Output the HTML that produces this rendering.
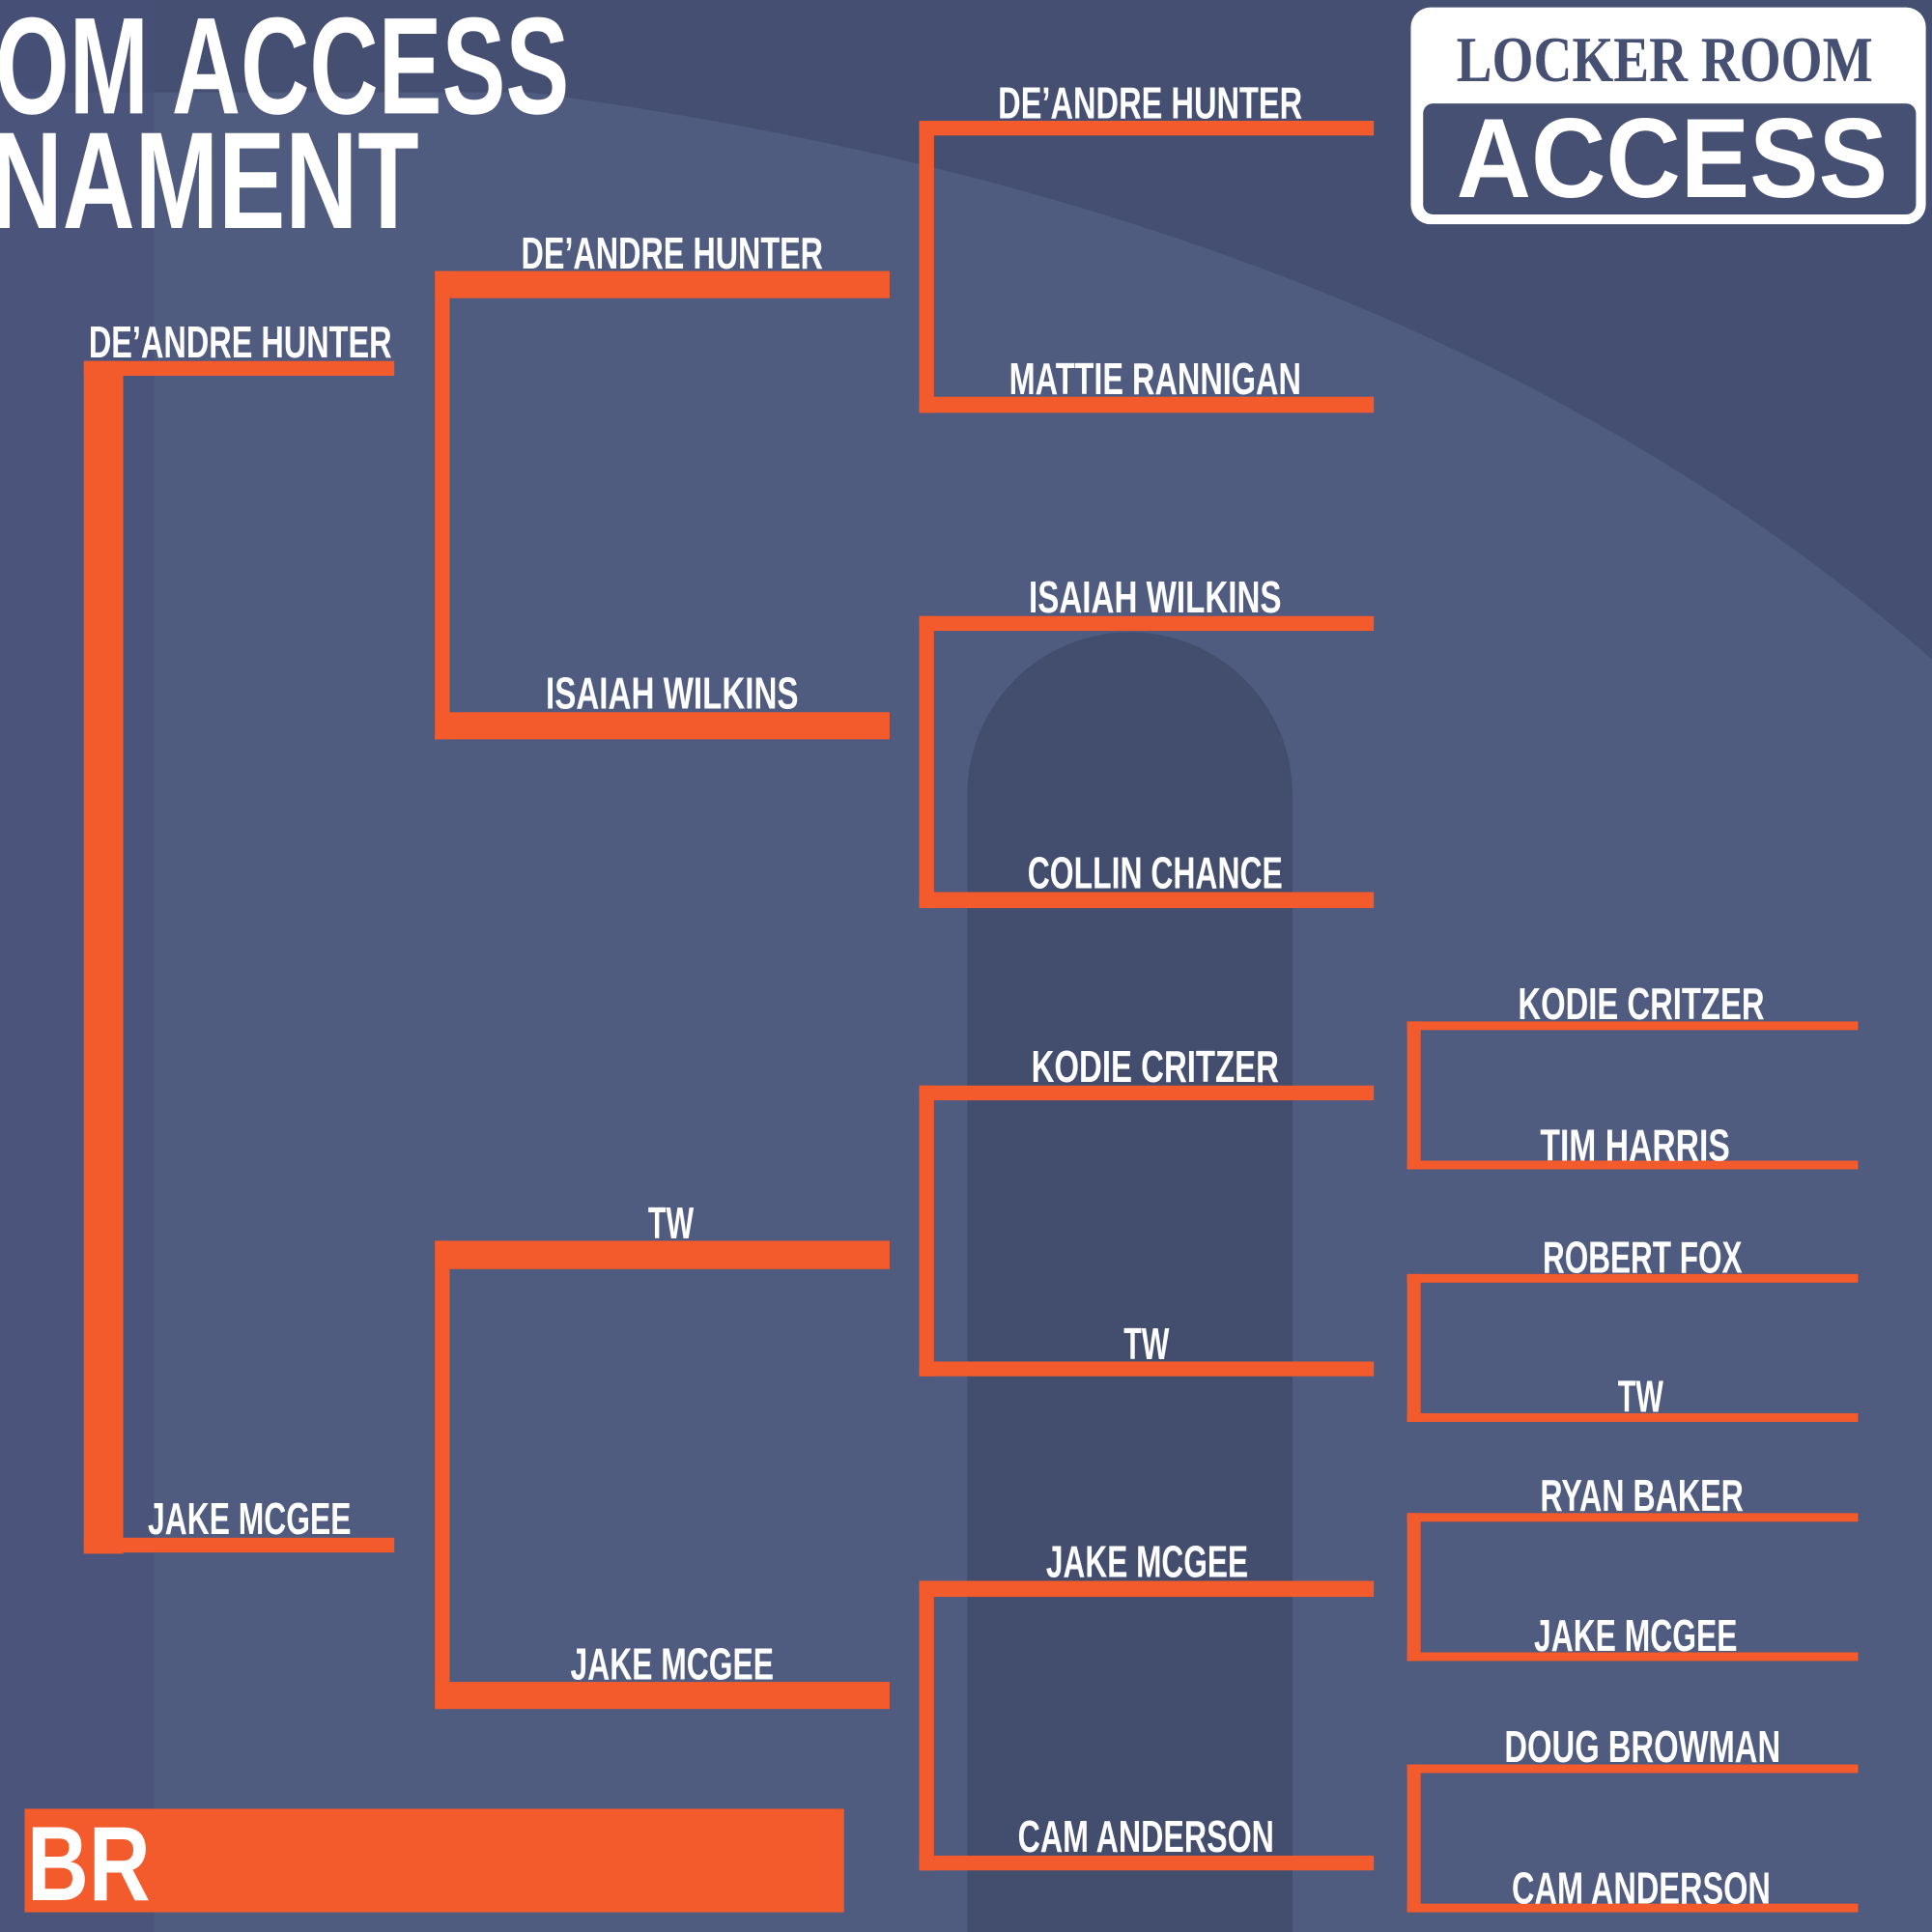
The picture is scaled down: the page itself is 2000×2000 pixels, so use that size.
<!DOCTYPE html>
<html><head><meta charset="utf-8"><style>
html,body{margin:0;padding:0;background:#4a5477;}
svg{display:block}
text{font-family:"Liberation Sans Narrow","Liberation Sans",sans-serif;font-weight:bold;fill:#fff}
</style></head><body>
<svg width="2000" height="2000" viewBox="0 0 1568 1568" xmlns="http://www.w3.org/2000/svg">
<rect width="1568" height="1568" fill="#454f71"/>
<path d="M430 75 Q1150 170 1568 535 L1568 1568 L0 1568 L0 75 Z" fill="#505b80"/>
<rect x="0" y="0" width="125" height="1568" fill="#48527a" opacity="0.6"/>
<path d="M785 1568 L785 645 A132 132 0 0 1 1049 645 L1049 1568 Z" fill="#434d6e"/>

<!-- Title -->
<text x="-4" y="92" font-size="112" textLength="466" lengthAdjust="spacingAndGlyphs">OM ACCESS</text>
<text x="-8" y="185" font-size="112" textLength="348" lengthAdjust="spacingAndGlyphs">NAMENT</text>

<!-- Logo -->
<rect x="1145" y="6" width="418" height="176" rx="16" fill="#fff"/>
<rect x="1155" y="84" width="400" height="90" rx="8" fill="#465073"/>
<text x="1182" y="66" font-size="52" textLength="338" lengthAdjust="spacingAndGlyphs" style="fill:#465073;font-family:'Liberation Serif',serif">LOCKER ROOM</text>
<text x="1182" y="160" font-size="92" textLength="350" lengthAdjust="spacingAndGlyphs" style="font-family:'Liberation Sans',sans-serif">ACCESS</text>

<g fill="#f35b2c">
<!-- Round 1 -->
<rect x="68" y="293" width="252" height="12"/>
<rect x="68" y="293" width="32" height="968"/>
<rect x="68" y="1248" width="252" height="12"/>
<!-- Round 2 -->
<rect x="353" y="220" width="369" height="22"/>
<rect x="353" y="220" width="12" height="380"/>
<rect x="353" y="578" width="369" height="22"/>
<rect x="353" y="1007" width="369" height="23"/>
<rect x="353" y="1007" width="12" height="380"/>
<rect x="353" y="1365" width="369" height="22"/>
<!-- Round 3 -->
<rect x="746" y="98" width="369" height="12"/><rect x="746" y="98" width="12" height="237"/><rect x="746" y="322" width="369" height="13"/>
<rect x="746" y="500" width="369" height="12"/><rect x="746" y="500" width="12" height="237"/><rect x="746" y="724" width="369" height="13"/>
<rect x="746" y="881" width="369" height="12"/><rect x="746" y="881" width="12" height="236"/><rect x="746" y="1105" width="369" height="12"/>
<rect x="746" y="1283" width="369" height="13"/><rect x="746" y="1283" width="12" height="235"/><rect x="746" y="1506" width="369" height="12"/>
<!-- Round 4 -->
<rect x="1142" y="829" width="366" height="7"/><rect x="1142" y="829" width="11" height="120"/><rect x="1142" y="942" width="366" height="7"/>
<rect x="1142" y="1034" width="366" height="7"/><rect x="1142" y="1034" width="11" height="120"/><rect x="1142" y="1147" width="366" height="7"/>
<rect x="1142" y="1228" width="366" height="7"/><rect x="1142" y="1228" width="11" height="120"/><rect x="1142" y="1341" width="366" height="7"/>
<rect x="1142" y="1432" width="366" height="7"/><rect x="1142" y="1432" width="11" height="120"/><rect x="1142" y="1545" width="366" height="7"/>
<!-- bottom bar -->
<rect x="20" y="1468" width="665" height="84"/>
</g>
<text x="22" y="1542" font-size="86" textLength="100" lengthAdjust="spacingAndGlyphs" style="font-family:'Liberation Sans',sans-serif">BR</text>

<g font-size="36">
<text x="72" y="290" textLength="246" lengthAdjust="spacingAndGlyphs">DE’ANDRE HUNTER</text>
<text x="120" y="1245" textLength="165" lengthAdjust="spacingAndGlyphs">JAKE MCGEE</text>
<text x="423" y="218" textLength="245" lengthAdjust="spacingAndGlyphs">DE’ANDRE HUNTER</text>
<text x="443" y="575" textLength="205" lengthAdjust="spacingAndGlyphs">ISAIAH WILKINS</text>
<text x="526" y="1005" textLength="37" lengthAdjust="spacingAndGlyphs">TW</text>
<text x="463" y="1363" textLength="165" lengthAdjust="spacingAndGlyphs">JAKE MCGEE</text>
<text x="810" y="96" textLength="247" lengthAdjust="spacingAndGlyphs">DE’ANDRE HUNTER</text>
<text x="819" y="320" textLength="237" lengthAdjust="spacingAndGlyphs">MATTIE RANNIGAN</text>
<text x="835" y="497" textLength="205" lengthAdjust="spacingAndGlyphs">ISAIAH WILKINS</text>
<text x="834" y="721" textLength="207" lengthAdjust="spacingAndGlyphs">COLLIN CHANCE</text>
<text x="837" y="878" textLength="201" lengthAdjust="spacingAndGlyphs">KODIE CRITZER</text>
<text x="912" y="1103" textLength="37" lengthAdjust="spacingAndGlyphs">TW</text>
<text x="849" y="1280" textLength="164" lengthAdjust="spacingAndGlyphs">JAKE MCGEE</text>
<text x="826" y="1503" textLength="208" lengthAdjust="spacingAndGlyphs">CAM ANDERSON</text>
<text x="1232" y="827" textLength="200" lengthAdjust="spacingAndGlyphs">KODIE CRITZER</text>
<text x="1250" y="942" textLength="154" lengthAdjust="spacingAndGlyphs">TIM HARRIS</text>
<text x="1252" y="1033" textLength="162" lengthAdjust="spacingAndGlyphs">ROBERT FOX</text>
<text x="1313" y="1146" textLength="37" lengthAdjust="spacingAndGlyphs">TW</text>
<text x="1250" y="1226" textLength="165" lengthAdjust="spacingAndGlyphs">RYAN BAKER</text>
<text x="1245" y="1340" textLength="165" lengthAdjust="spacingAndGlyphs">JAKE MCGEE</text>
<text x="1221" y="1430" textLength="224" lengthAdjust="spacingAndGlyphs">DOUG BROWMAN</text>
<text x="1227" y="1545" textLength="210" lengthAdjust="spacingAndGlyphs">CAM ANDERSON</text>
</g>
</svg>
</body></html>
